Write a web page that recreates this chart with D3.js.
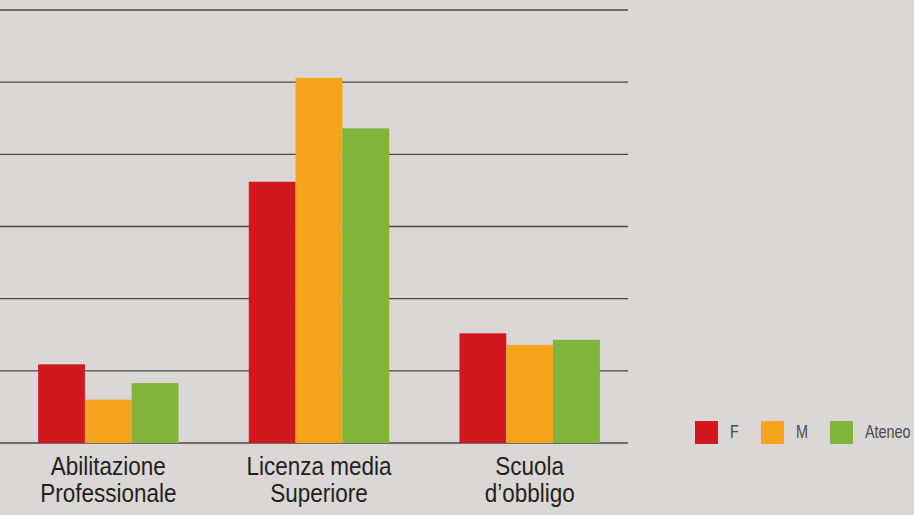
<!DOCTYPE html>
<html>
<head>
<meta charset="utf-8">
<script src="https://cdn.jsdelivr.net/npm/d3@7"></script>
<style>
  html, body { margin: 0; padding: 0; background: #dbd7d6; }
  svg { display: block; }
  .cat { font-family: "Liberation Sans", Arial, sans-serif; font-size: 25px; fill: #231f20; }
  .leg { font-family: "Liberation Sans", Arial, sans-serif; font-size: 18px; fill: #4d4b4b; }
</style>
</head>
<body>
<svg id="chart" width="914" height="515"></svg>
<script>
// data
var categories = [["Abilitazione", "Professionale"], ["Licenza media", "Superiore"], ["Scuola", "d\u2019obbligo"]];
var series = ["F", "M", "Ateneo"];
var valuesF = [10.9, 36.2, 15.2];
var valuesM = [6.0, 50.6, 13.6];
var valuesAteneo = [8.3, 43.6, 14.3];
var gridTicks = [0, 10, 20, 30, 40, 50, 60];

var colors = {F: "#d2181f", M: "#f6a41c", Ateneo: "#80b43a"};

var svg = d3.select("#chart"),
    margin = {top: 10, left: 0},
    width = 628,
    height = 433,
    g = svg.append("g").attr("transform", "translate(" + margin.left + "," + margin.top + ")");

var rows = categories.map(function(c, i) {
  return {key: i, label: c, F: valuesF[i], M: valuesM[i], Ateneo: valuesAteneo[i]};
});

var x0 = d3.scaleBand()
    .domain(rows.map(function(d) { return d.key; }))
    .range([3, 635])
    .paddingInner(0.3335)
    .paddingOuter(0.1667);

var x1 = d3.scaleBand()
    .domain(series)
    .range([0, x0.bandwidth()]);

var y = d3.scaleLinear()
    .domain([0, 60])
    .range([height, 0]);

// grid lines
g.append("g")
  .selectAll("line")
  .data(gridTicks)
  .enter().append("line")
    .attr("x1", 0)
    .attr("x2", width)
    .attr("y1", function(d) { return y(d); })
    .attr("y2", function(d) { return y(d); })
    .attr("stroke", "#4a4747")
    .attr("stroke-width", 1.4);

// bars
g.append("g")
  .selectAll("g")
  .data(rows)
  .enter().append("g")
    .attr("transform", function(d) { return "translate(" + x0(d.key) + ",0)"; })
  .selectAll("rect")
  .data(function(d) { return series.map(function(s) { return {s: s, v: d[s]}; }); })
  .enter().append("rect")
    .attr("x", function(d) { return x1(d.s); })
    .attr("width", x1.bandwidth())
    .attr("y", function(d) { return y(d.v); })
    .attr("height", function(d) { return y(0) - y(d.v); })
    .attr("fill", function(d) { return colors[d.s]; });

// category labels (condensed look via horizontal scale)
var lab = g.append("g")
  .selectAll("text")
  .data(rows)
  .enter().append("text")
    .attr("class", "cat")
    .attr("text-anchor", "middle")
    .attr("transform", function(d) {
      return "translate(" + (x0(d.key) + x0.bandwidth() / 2) + "," + (height + 32) + ") scale(0.9,1)";
    });
lab.selectAll("tspan")
  .data(function(d) { return d.label; })
  .enter().append("tspan")
    .attr("x", 0)
    .attr("dy", function(d, i) { return i ? 27 : 0; })
    .text(function(d) { return d; });

// legend
var legX = [695, 761, 830];
var legend = svg.append("g")
  .selectAll("g")
  .data(series)
  .enter().append("g")
    .attr("transform", function(d, i) { return "translate(" + legX[i] + ",421)"; });
legend.append("rect")
  .attr("width", 23)
  .attr("height", 23)
  .attr("fill", function(d) { return colors[d]; });
legend.append("text")
  .attr("class", "leg")
  .attr("transform", "translate(35,17) scale(0.8,1)")
  .text(function(d) { return d; });
</script>
</body>
</html>
